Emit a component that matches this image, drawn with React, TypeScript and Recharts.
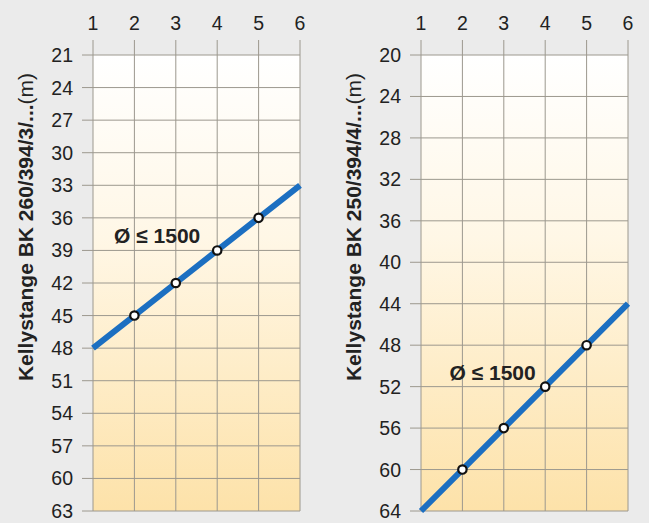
import { CartesianGrid, Line, LineChart, ReferenceDot, XAxis, YAxis } from "recharts";

// shared x categories (top axis)
const xTicks = [1, 2, 3, 4, 5, 6];

// left panel: BK 260
const leftYTicks = [21, 24, 27, 30, 33, 36, 39, 42, 45, 48, 51, 54, 57, 60, 63];
const leftValues = [48, 45, 42, 39, 36, 33];
const leftTitle = "Kellystange BK 260/394/3/...";

// right panel: BK 250
const rightYTicks = [20, 24, 28, 32, 36, 40, 44, 48, 52, 56, 60, 64];
const rightValues = [64, 60, 56, 52, 48, 44];
const rightTitle = "Kellystange BK 250/394/4/...";

const noteText = "Ø ≤ 1500";

const FONT = "'Liberation Sans', Arial, sans-serif";
const GRID = "#9c988e";
const BLUE = "#1c6fc1";
const TICK_SIZE = 19.5;

function Marker(props: any) {
  const { cx, cy, index } = props;
  // markers only on the inner points, not on the ends
  if (index === 0 || index === xTicks.length - 1) return <g key={index} />;
  return <circle key={index} cx={cx} cy={cy} r={4.2} fill="#fff" stroke="#111" strokeWidth={2.2} />;
}

function TopTick(props: any) {
  const { x, y, payload } = props;
  return (
    <text x={x} y={y} textAnchor="middle" fill="#222" fontSize={TICK_SIZE} fontFamily={FONT}>
      {payload.value}
    </text>
  );
}

function LeftTick(props: any) {
  const { x, y, payload } = props;
  return (
    <text x={x} y={y} dy="0.36em" textAnchor="end" fill="#222" fontSize={TICK_SIZE} fontFamily={FONT}>
      {payload.value}
    </text>
  );
}

function Panel({
  id,
  width,
  axisWidth,
  titleOffset,
  rightMargin,
  yTicks,
  values,
  title,
  note,
}: {
  id: string;
  width: number;
  axisWidth: number;
  titleOffset: number;
  rightMargin: number;
  yTicks: number[];
  values: number[];
  title: string;
  note: { x: number; y: number };
}) {
  const data = xTicks.map((x, i) => ({ x, v: values[i] }));
  return (
    <LineChart
      width={width}
      height={523}
      data={data}
      margin={{ top: 0, right: rightMargin, left: 0, bottom: 12 }}
    >
      <defs>
        <linearGradient id={`bg-${id}`} x1="0" y1="0" x2="0" y2="1">
          <stop offset="0%" stopColor="#ffffff" />
          <stop offset="40%" stopColor="#fff7e6" />
          <stop offset="100%" stopColor="#fde2a9" />
        </linearGradient>
      </defs>
      <CartesianGrid stroke={GRID} strokeWidth={1} fill={`url(#bg-${id})`} fillOpacity={1} />
      <XAxis
        dataKey="x"
        type="number"
        orientation="top"
        domain={[1, 6]}
        ticks={xTicks}
        height={55}
        axisLine={false}
        tickLine={{ stroke: GRID }}
        tickSize={15}
        tickMargin={10}
        tick={<TopTick />}
      />
      <YAxis
        type="number"
        reversed
        domain={[yTicks[0], yTicks[yTicks.length - 1]]}
        ticks={yTicks}
        interval={0}
        width={axisWidth}
        axisLine={false}
        tickLine={{ stroke: GRID }}
        tickSize={11}
        tickMargin={9}
        tick={<LeftTick />}
        label={{
          content: (p: any) => {
            const vb = p.viewBox || {};
            const cx = vb.x + titleOffset;
            const cy = vb.y + 172;
            return (
              <text
                x={cx}
                y={cy}
                transform={`rotate(-90 ${cx} ${cy})`}
                textAnchor="middle"
                dominantBaseline="central"
                fontFamily={FONT}
                fontSize={21}
                fill="#222"
              >
                <tspan fontWeight="bold">{title}</tspan>
                <tspan>(m)</tspan>
              </text>
            );
          },
        }}
      />
      <Line
        dataKey="v"
        stroke={BLUE}
        strokeWidth={6}
        dot={Marker}
        activeDot={false}
        isAnimationActive={false}
      />
      <ReferenceDot
        x={note.x}
        y={note.y}
        r={0}
        fill="none"
        stroke="none"
        label={{
          value: noteText,
          position: "center",
          fill: "#222",
          fontSize: 21,
          fontWeight: "bold",
          fontFamily: FONT,
        }}
      />
    </LineChart>
  );
}

export default function App() {
  return (
    <div
      style={{
        position: "absolute",
        left: 0,
        top: 0,
        width: 649,
        height: 523,
        background: "#ebebeb",
        display: "flex",
      }}
    >
      <Panel
        id="l"
        width={320}
        axisWidth={93}
        titleOffset={25}
        rightMargin={20}
        yTicks={leftYTicks}
        values={leftValues}
        title={leftTitle}
        note={{ x: 2.55, y: 37.6 }}
      />
      <Panel
        id="r"
        width={329}
        axisWidth={101}
        titleOffset={33}
        rightMargin={21}
        yTicks={rightYTicks}
        values={rightValues}
        title={rightTitle}
        note={{ x: 2.73, y: 50.6 }}
      />
    </div>
  );
}
